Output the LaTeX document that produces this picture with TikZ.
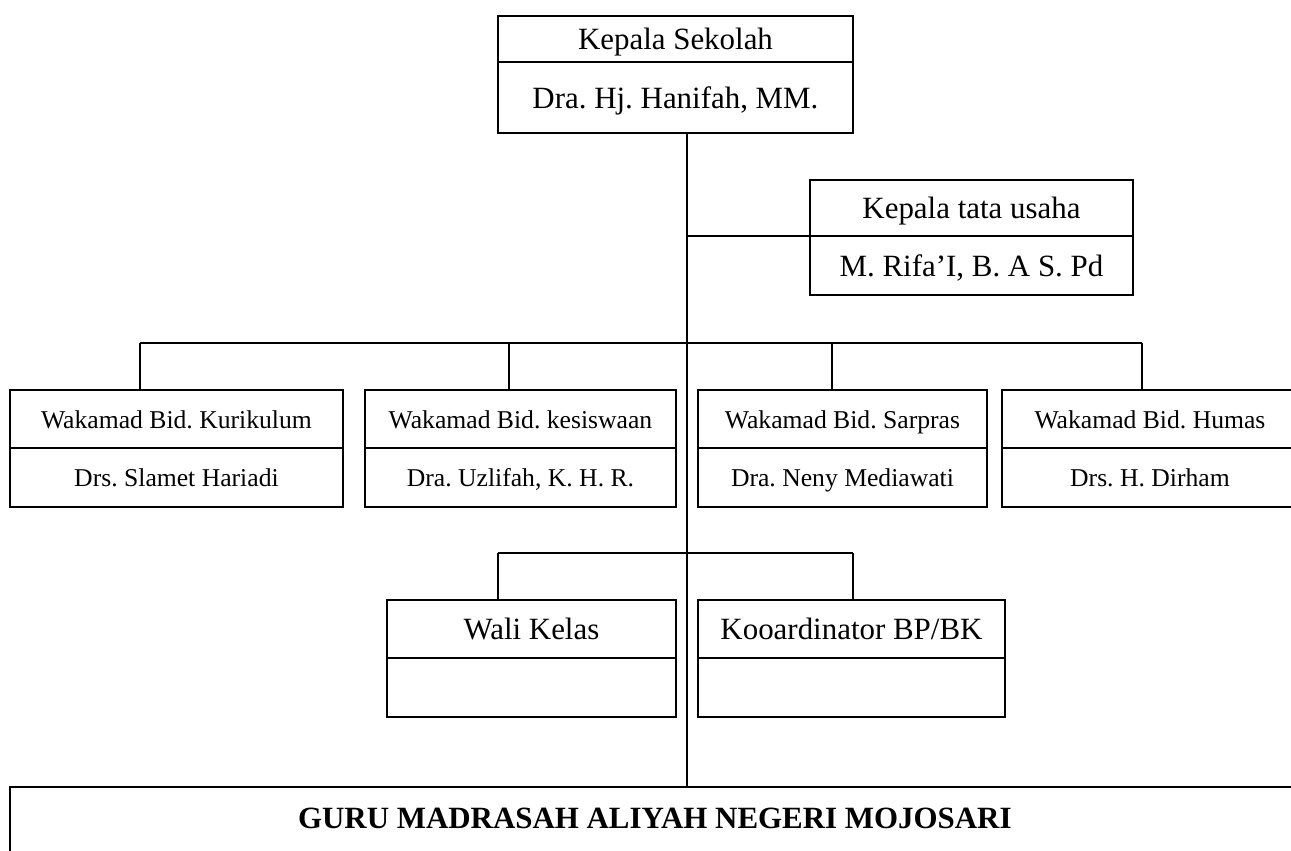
\documentclass[tikz,border=0pt]{standalone}
\usepackage{fontspec}
\setmainfont{Liberation Serif}
\usetikzlibrary{positioning}
\frenchspacing

\tikzset{
    cell/.style={draw, line width=1.1pt, inner sep=0pt, outer sep=0pt, anchor=north west},
    big/.style={font=\fontsize{17.6pt}{21pt}\selectfont, text height=14.2pt, text depth=2.1pt},
    small/.style={font=\fontsize{14.6pt}{17pt}\selectfont, text height=12.1pt, text depth=1.5pt},
    link/.style={line width=1.1pt}
}

\begin{document}
\begin{tikzpicture}[x=0.02cm,y=-0.02cm]
    \useasboundingbox (0,0) rectangle (1291,850);
    \clip (0,0) rectangle (1291,850);

    \node[cell, big, minimum width=7.1cm, minimum height=0.92cm] (KSa) at (498,16) {Kepala Sekolah};
    \node[cell, big, minimum width=7.1cm, minimum height=1.42cm] (KSb) at (KSa.south west) {Dra. Hj. Hanifah, MM.};

    \node[cell, big, minimum width=6.46cm, minimum height=1.12cm] (KTUa) at (810,180) {Kepala tata usaha};
    \node[cell, big, minimum width=6.46cm, minimum height=1.18cm] (KTUb) at (KTUa.south west) {M. Rifa'I, B. A S. Pd};

    \node[cell, small, minimum width=6.66cm, minimum height=1.16cm] (kurA) at (10,390) {Wakamad Bid. Kurikulum};
    \node[cell, small, minimum width=6.66cm, minimum height=1.18cm] (kurB) at (kurA.south west) {Drs. Slamet Hariadi};
    \node[cell, small, minimum width=6.22cm, minimum height=1.16cm] (kesA) at (365,390) {Wakamad Bid. kesiswaan};
    \node[cell, small, minimum width=6.22cm, minimum height=1.18cm] (kesB) at (kesA.south west) {Dra. Uzlifah, K. H. R.};
    \node[cell, small, minimum width=5.78cm, minimum height=1.16cm] (sarA) at (698,390) {Wakamad Bid. Sarpras};
    \node[cell, small, minimum width=5.78cm, minimum height=1.18cm] (sarB) at (sarA.south west) {Dra. Neny Mediawati};
    \node[cell, small, minimum width=8.4cm, minimum height=1.16cm] (humA) at (1002,390) {Wakamad Bid. Humas\hspace*{2.48cm}};
    \node[cell, small, minimum width=8.4cm, minimum height=1.18cm] (humB) at (humA.south west) {Drs. H. Dirham\hspace*{2.48cm}};

    \node[cell, big, minimum width=5.78cm, minimum height=1.16cm] (waliA) at (387,600) {Wali Kelas};
    \node[cell, big, minimum width=5.78cm, minimum height=1.18cm] (waliB) at (waliA.south west) {};
    \node[cell, big, minimum width=6.14cm, minimum height=1.16cm] (bkA) at (698,600) {Kooardinator BP/BK};
    \node[cell, big, minimum width=6.14cm, minimum height=1.18cm] (bkB) at (bkA.south west) {};

    \node[cell, font=\bfseries\fontsize{17.6pt}{21pt}\selectfont, minimum width=25.8cm, text height=0.82cm, text depth=1.2cm] (guru) at (10,787) {GURU MADRASAH ALIYAH NEGERI MOJOSARI};

    \coordinate (tr) at (687,0);
    \draw[link] (tr |- KSb.south) -- (tr |- guru.north);
    \draw[link] (tr |- KTUa.south) -- (KTUa.south west);

    \coordinate (d1) at (140,343);
    \coordinate (d2) at (509,343);
    \coordinate (d3) at (832,343);
    \coordinate (d4) at (1142,343);
    \draw[link] (d1) -- (d4);
    \foreach \i/\n in {1/kurA,2/kesA,3/sarA,4/humA}
        \draw[link] (d\i) -- (d\i |- \n.north);

    \coordinate (e1) at (498,553);
    \coordinate (e2) at (853,553);
    \draw[link] (e1) -- (e2);
    \draw[link] (e1) -- (e1 |- waliA.north);
    \draw[link] (e2) -- (e2 |- bkA.north);
\end{tikzpicture}
\end{document}
